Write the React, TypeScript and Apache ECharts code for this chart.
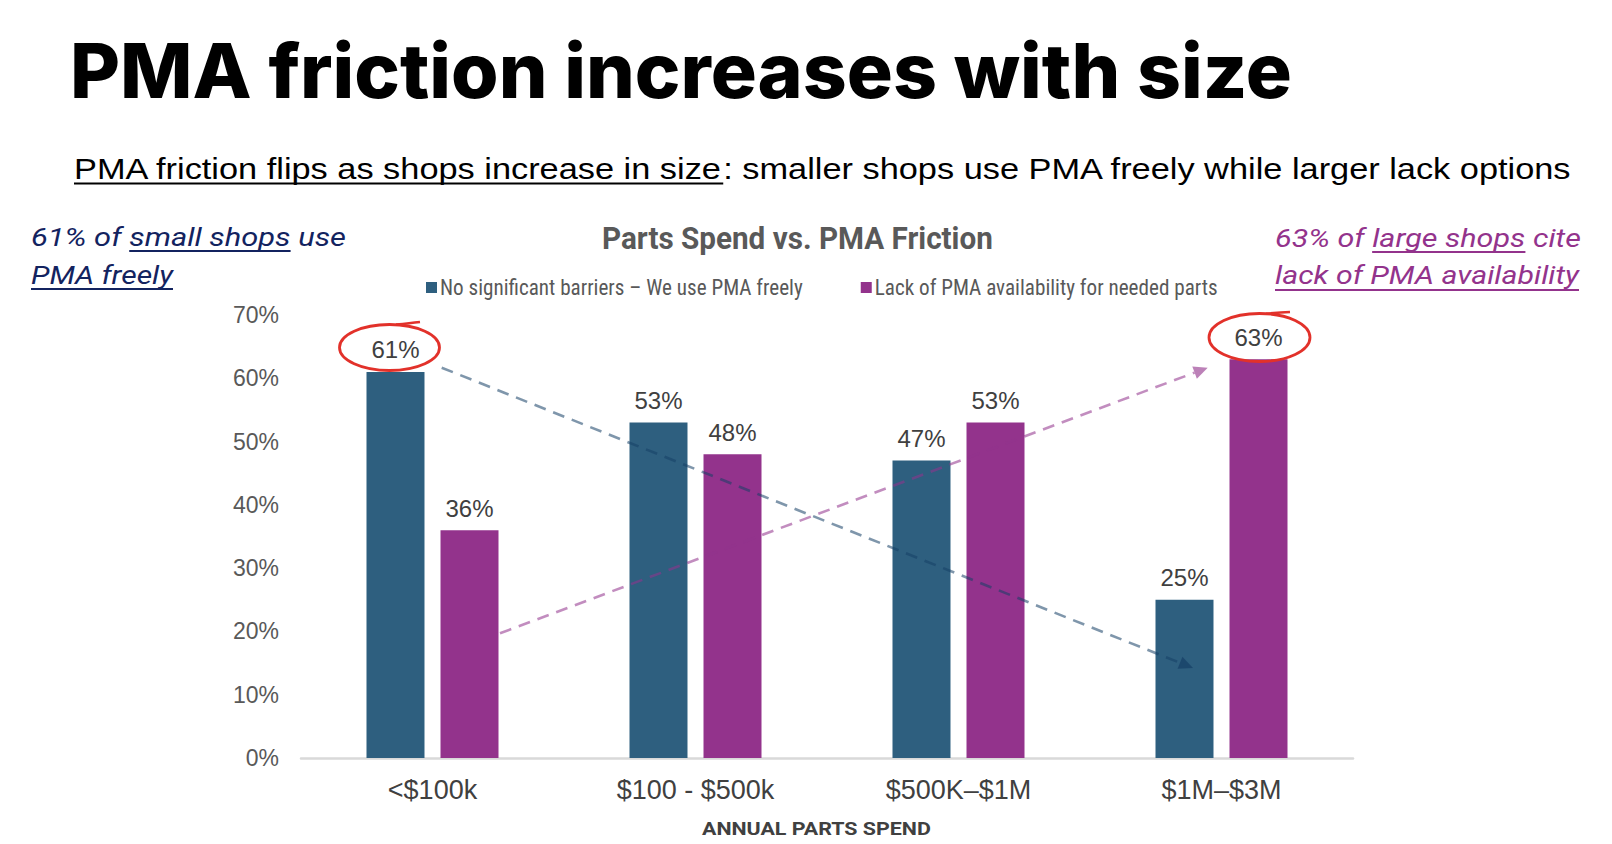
import React, { useEffect, useRef } from "react";
import * as echarts from "echarts";

const categories = ["<$100k", "$100 - $500k", "$500K–$1M", "$1M–$3M"];
const seriesNames = [
  "No significant barriers – We use PMA freely",
  "Lack of PMA availability for needed parts",
];
const freelyValues = [61, 53, 47, 25];
const lackValues = [36, 48, 53, 63];
const yAxisMin = 0;
const yAxisMax = 70;
const yAxisStep = 10;

const titleText = "PMA friction increases with size";
const subtitleUnderlined = "PMA friction flips as shops increase in size";
const subtitleRest = ": smaller shops use PMA freely while larger lack options";
const chartTitleText = "Parts Spend vs. PMA Friction";
const axisNameText = "ANNUAL PARTS SPEND";

const BLUE = "#2e5f7f";
const PURPLE = "#93338c";
const NAVY = "#13235f";
const RED = "#e2312a";

let ctx: CanvasRenderingContext2D | null = null;
function measure(text: string, font: string): number {
  if (!ctx) ctx = document.createElement("canvas").getContext("2d");
  if (!ctx) return text.length * 10;
  ctx.font = font;
  return ctx.measureText(text).width;
}
function hasFont(f: string): boolean {
  const s = "abcdefghijklmnopqrstuvwxyz ABCDEFGHIJ 0123";
  return Math.abs(measure(s, `100px "${f}", monospace`) - measure(s, "100px monospace")) > 0.5;
}
function pickFont(list: string[], fallback: string): string {
  for (const f of list) if (hasFont(f)) return f;
  return fallback;
}

type Seg = { t: string; u?: boolean };

function segLine(
  x: number,
  y: number,
  segs: Seg[],
  fontStyle: string,
  size: number,
  family: string,
  color: string,
  targetWidth: number,
  underlineY: number,
  underlineW: number
): any[] {
  const font = `${fontStyle} ${size}px ${family}`;
  const total = segs.reduce((a, s) => a + measure(s.t, font), 0);
  const scale = targetWidth / total;
  const els: any[] = [];
  let cx = x;
  for (const s of segs) {
    const w = measure(s.t, font) * scale;
    els.push({
      type: "text",
      x: cx,
      y,
      scaleX: scale,
      silent: true,
      z: 50,
      style: {
        text: s.t,
        x: 0,
        y: 0,
        font,
        fill: color,
        align: "left",
        verticalAlign: "middle",
        textAlign: "left",
        textVerticalAlign: "middle",
      },
    });
    if (s.u) {
      els.push({
        type: "line",
        silent: true,
        z: 50,
        shape: { x1: cx, y1: underlineY, x2: cx + w, y2: underlineY },
        style: { stroke: color, lineWidth: underlineW },
      });
    }
    cx += w;
  }
  return els;
}

function dashedArrow(
  x1: number,
  y1: number,
  x2: number,
  y2: number,
  lineColor: string,
  headColor: string
): any[] {
  const dx = x2 - x1;
  const dy = y2 - y1;
  const len = Math.sqrt(dx * dx + dy * dy);
  const ux = dx / len;
  const uy = dy / len;
  const headLen = 14;
  const halfW = 6.5;
  const bx = x2 - ux * headLen;
  const by = y2 - uy * headLen;
  return [
    {
      type: "line",
      silent: true,
      z: 100,
      shape: { x1, y1, x2: bx, y2: by },
      style: { stroke: lineColor, lineWidth: 2.6, lineDash: [12, 8] },
    },
    {
      type: "polygon",
      silent: true,
      z: 100,
      shape: {
        points: [
          [x2, y2],
          [bx - uy * halfW, by + ux * halfW],
          [bx + uy * halfW, by - ux * halfW],
        ],
      },
      style: { fill: headColor },
    },
  ];
}

export default function App() {
  const ref = useRef<HTMLDivElement>(null);

  useEffect(() => {
    document.body.style.margin = "0";
    if (!ref.current) return;
    const chart = echarts.init(ref.current, undefined, { renderer: "svg" });

    const narrow = pickFont(
      ["Roboto Condensed", "Liberation Sans Narrow", "DejaVu Sans Condensed", "Open Sans Condensed"],
      "Roboto"
    );
    const legendSize = Math.min(22, (100 * 363) / measure(seriesNames[0], `100px "${narrow}"`));

    const graphics: any[] = [];
    // Main title
    graphics.push(
      ...segLine(70, 70.5, [{ t: titleText }], "normal 800", 76, "Inter", "#000000", 1222, 0, 0)
    );
    // Subtitle
    graphics.push(
      ...segLine(
        74,
        169,
        [{ t: subtitleUnderlined, u: true }, { t: subtitleRest }],
        "normal 400",
        30,
        "'Liberation Sans', Arial",
        "#000000",
        1499,
        183.5,
        2
      )
    );
    // Left annotation
    graphics.push(
      ...segLine(
        31,
        237,
        [{ t: "61% of " }, { t: "small shops", u: true }, { t: " use" }],
        "italic 400",
        26,
        "Roboto",
        NAVY,
        315,
        251,
        2
      ),
      ...segLine(31, 275, [{ t: "PMA freely", u: true }], "italic 400", 26, "Roboto", NAVY, 142, 289, 2)
    );
    // Right annotation
    graphics.push(
      ...segLine(
        1275,
        238,
        [{ t: "63% of " }, { t: "large shops", u: true }, { t: " cite" }],
        "italic 400",
        26,
        "Roboto",
        PURPLE,
        306,
        252,
        2
      ),
      ...segLine(
        1275,
        275,
        [{ t: "lack of PMA availability", u: true }],
        "italic 400",
        26,
        "Roboto",
        PURPLE,
        304,
        290,
        2
      )
    );
    // Chart title
    graphics.push(
      ...segLine(602, 238, [{ t: chartTitleText }], "normal bold", 32, "Roboto", "#595959", 391, 0, 0)
    );
    // X axis title
    graphics.push(
      ...segLine(702, 829.5, [{ t: axisNameText }], "normal bold", 18, "Roboto", "#404040", 229, 0, 0)
    );
    // Trend arrows (semi-transparent, drawn over the bars)
    graphics.push(
      ...dashedArrow(441.7, 367.7, 1193, 668, "rgba(22,64,102,0.55)", "rgba(22,64,102,0.72)"),
      ...dashedArrow(500, 633.3, 1207.7, 367.7, "rgba(147,51,140,0.56)", "rgba(147,51,140,0.62)")
    );
    // Hand-drawn red circles
    graphics.push(
      {
        type: "ellipse",
        silent: true,
        z: 100,
        shape: { cx: 389.5, cy: 347.5, rx: 50, ry: 23 },
        style: { fill: "none", stroke: RED, lineWidth: 2.8 },
      },
      {
        type: "bezierCurve",
        silent: true,
        z: 100,
        shape: { x1: 396, y1: 324.6, x2: 420, y2: 322, cpx1: 410, cpy1: 323.2 },
        style: { fill: "none", stroke: RED, lineWidth: 2.6 },
      },
      {
        type: "ellipse",
        silent: true,
        z: 100,
        shape: { cx: 1259.5, cy: 337.5, rx: 50.5, ry: 24 },
        style: { fill: "none", stroke: RED, lineWidth: 2.8 },
      },
      {
        type: "bezierCurve",
        silent: true,
        z: 100,
        shape: { x1: 1266, y1: 313.7, x2: 1290, y2: 312, cpx1: 1280, cpy1: 312.5 },
        style: { fill: "none", stroke: RED, lineWidth: 2.6 },
      }
    );

    const labelStyle = {
      show: true,
      position: "top",
      distance: 10,
      formatter: "{c}%",
      fontFamily: "'Liberation Sans', Arial",
      fontSize: 24,
      color: "#404040",
    };

    chart.setOption({
      animation: false,
      backgroundColor: "#ffffff",
      legend: {
        data: seriesNames,
        left: 421,
        top: 272,
        itemWidth: 11,
        itemHeight: 11,
        itemGap: 58,
        icon: "rect",
        textStyle: {
          fontFamily: `"${narrow}"`,
          fontSize: legendSize,
          color: "#595959",
          padding: [0, 0, 0, -2],
        },
      },
      grid: { left: 301, right: 259, top: 315, bottom: 86, containLabel: false },
      xAxis: {
        type: "category",
        data: categories,
        axisLine: { show: true, lineStyle: { color: "#d9d9d9", width: 2.5 } },
        axisTick: { show: false },
        axisLabel: {
          margin: 18,
          fontFamily: "'Liberation Sans', Arial",
          fontSize: 27,
          color: "#404040",
        },
      },
      yAxis: {
        type: "value",
        min: yAxisMin,
        max: yAxisMax,
        interval: yAxisStep,
        axisLine: { show: false },
        axisTick: { show: false },
        splitLine: { show: false },
        axisLabel: {
          formatter: "{value}%",
          margin: 22,
          fontFamily: "'Liberation Sans', Arial",
          fontSize: 23,
          color: "#595959",
        },
      },
      series: [
        {
          name: seriesNames[0],
          type: "bar",
          data: freelyValues,
          barWidth: 58,
          barGap: "27.6%",
          z: 1,
          itemStyle: { color: BLUE },
          label: labelStyle,
        },
        {
          name: seriesNames[1],
          type: "bar",
          data: lackValues,
          barWidth: 58,
          barGap: "27.6%",
          z: 1,
          itemStyle: { color: PURPLE },
          label: labelStyle,
        },
      ],
      graphic: { z: 100, zlevel: 0, elements: graphics },
    });

    return () => {
      chart.dispose();
    };
  }, []);

  return <div ref={ref} style={{ width: 1612, height: 844 }} />;
}
